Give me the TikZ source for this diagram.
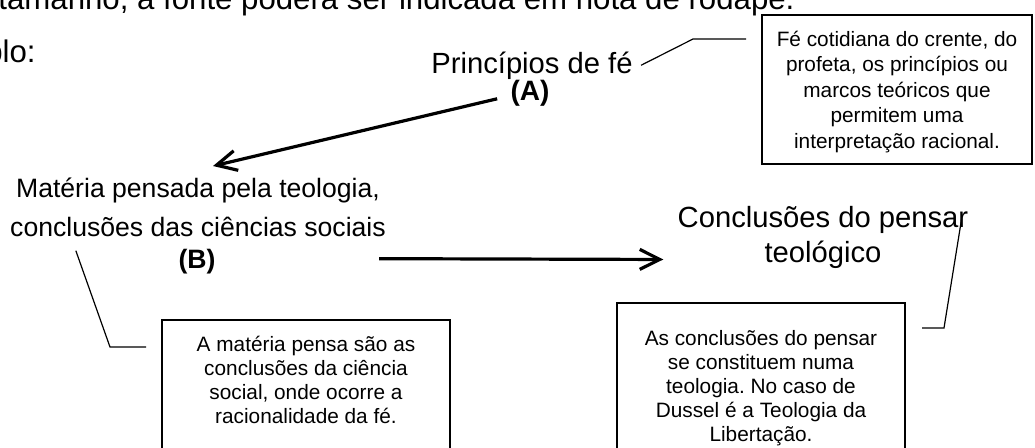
\documentclass[tikz,border=0pt]{standalone}
\usepackage{fontspec}
\setmainfont{Liberation Sans}
\usetikzlibrary{arrows.meta,calc,fit}
\frenchspacing

\tikzset{
	pagetext/.style={inner sep=0, font=\fontsize{15.6}{18}\selectfont},
	bigtext/.style={inner sep=0, font=\fontsize{14.6}{17.5}\selectfont, align=center},
	midtext/.style={inner sep=0, font=\fontsize{13.3}{19.5}\selectfont, align=center},
	tagtext/.style={inner sep=0, font=\fontsize{14}{16}\selectfont\bfseries},
	notebox/.style={draw, line width=1pt, inner sep=0},
	notetext/.style={inner sep=0, font=\fontsize{10.4}{12.75}\selectfont, align=center},
	flow/.style={line width=1.6pt, -{Straight Barb[length=10pt,width=10pt]}},
	leader/.style={line width=0.6pt},
}

\begin{document}
\begin{tikzpicture}[x=0.5pt,y=-0.5pt]
	%%%%% START %%%%%
	\useasboundingbox (0,0) rectangle (1035,447);
	\clip (0,0) rectangle (1035,447);
	
	% page text around the figure (multi-line nodes sit on their last baseline)
	\node[pagetext, anchor=base west] (pagetop) at (-2,9) {tamanho, a fonte poderá ser indicada em nota de rodapé.};
	\node[pagetext, anchor=base east] (pageex) at (36,62) {Exemplo:};
	
	% A
	\node[bigtext, anchor=base] (princ) at (532,73) {Princípios de fé};
	\node[tagtext, anchor=base] (labA) at (530,100) {(A)};
	\node[notebox, fit={(762,15) (1032,164)}] (boxA) {};
	\node[notetext, anchor=base] (noteA) at ($(boxA.north)+(0,134)$) {Fé cotidiana do crente, do\\profeta, os princípios ou\\marcos teóricos que\\permitem uma\\interpretação racional.};
	\draw[leader] ($(princ.east)+(8,0)$) -- ($(boxA.north west)+(-68,25)$) -- ($(boxA.north west)+(-15,25)$);
	
	% B
	\node[midtext, anchor=base] (matB) at (198,236) {Matéria pensada pela teologia,\\conclusões das ciências sociais};
	\node[tagtext, font=\fontsize{13.3}{16}\selectfont\bfseries, anchor=base] (labB) at (197,268) {(B)};
	\node[notebox, fit={(162,320) (450,480)}] (boxB) {};
	\node[notetext, font=\fontsize{10.4}{12}\selectfont, anchor=base] (noteB) at ($(boxB.north)+(0,104)$) {A matéria pensa são as\\conclusões da ciência\\social, onde ocorre a\\racionalidade da fé.};
	\draw[leader] ($(matB.south west)+(66,14)$) -- ($(boxB.north west)+(-51,28)$) -- ($(boxB.north west)+(-15,28)$);
	
	% C
	\node[bigtext, anchor=base] (concC) at (823,262) {Conclusões do pensar\\teológico};
	\node[notebox, fit={(617,303) (905,480)}] (boxC) {};
	\node[notetext, font=\fontsize{10.4}{12}\selectfont, anchor=base] (noteC) at ($(boxC.north)+(0,139)$) {As conclusões do pensar\\se constituem numa\\teologia. No caso de\\Dussel é a Teologia da\\Libertação.};
	\draw[leader] ($(concC.north east)+(-7,13)$) -- ($(boxC.north east)+(38,26)$) -- ($(boxC.north east)+(16,26)$);
	
	% arrows
	\draw[flow] ($(labA.west)+(-13,6)$) -- ($(matB.north)+(15,-11)$);
	\draw[flow] ($(matB.south east)+(-7,22)$) -- ($(concC.south west)+(-14,-9)$);
	%%%%% END %%%%%
\end{tikzpicture}
\end{document}
